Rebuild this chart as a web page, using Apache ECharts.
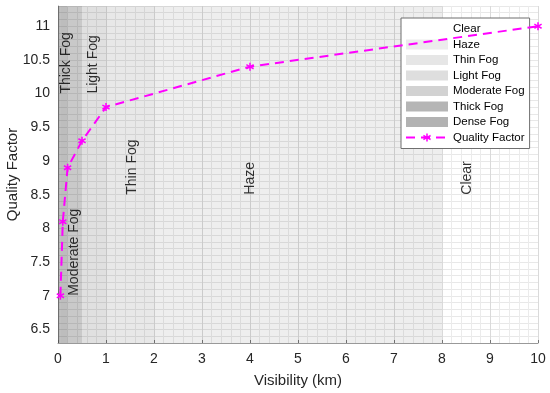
<!DOCTYPE html>
<html><head><meta charset="utf-8">
<script src="https://cdn.jsdelivr.net/npm/echarts@6/dist/echarts.min.js"></script>
<style>html,body{margin:0;padding:0;background:#fff}#c{width:550px;height:393px}</style>
</head><body><div id="c"></div>
<script>
// Quality factor vs visibility
const visibility = [0.05, 0.1, 0.2, 0.5, 1, 4, 10];
const qualityFactor = [7.0, 8.1, 8.9, 9.3, 9.8, 10.4, 11.0];

// Fog class bands (km)
const bandNames = ['Clear', 'Haze', 'Thin Fog', 'Light Fog', 'Moderate Fog', 'Thick Fog', 'Dense Fog'];
const bandStart = [8, 2, 1, 0.5, 0.2, 0.05, 0];
const bandEnd   = [10, 8, 2, 1, 0.5, 0.2, 0.05];
const bandLegendColor = ['#ffffff', '#ececec', '#e6e6e6', '#dedede', '#d2d2d2', '#b5b5b5', '#b2b2b2'];
const bandFill = ['rgba(0,0,0,0)', 'rgba(0,0,0,0.065)', 'rgba(0,0,0,0.09)', 'rgba(0,0,0,0.12)', 'rgba(0,0,0,0.21)', 'rgba(0,0,0,0.26)', 'rgba(0,0,0,0.28)'];

// In-plot class labels: [x, y(bottom of rotated text), text]
const labelX = [0.17, 0.73, 0.33, 1.54, 4.0, 8.52];
const labelY = [10.0, 10.0, 7.0, 8.5, 8.5, 8.5];
const labelText = ['Thick Fog', 'Light Fog', 'Moderate Fog', 'Thin Fog', 'Haze', 'Clear'];

const FONT = "'Liberation Sans', Arial, sans-serif";
const MAG = '#ff00ff';
const starPath = 'path://M-1,-5L1,-5L1,-1.6L4.2,-3.4L5.2,-1.7L2,0L5.2,1.7L4.2,3.4L1,1.6L1,5L-1,5L-1,1.6L-4.2,3.4L-5.2,1.7L-2,0L-5.2,-1.7L-4.2,-3.4L-1,-1.6Z';

const series = [];
bandNames.forEach((n, i) => {
  series.push({
    name: n, type: 'line', data: [], symbol: 'none',
    itemStyle: { color: bandLegendColor[i] },
    lineStyle: { width: 0 },
    z: 1,
    markArea: {
      silent: true,
      itemStyle: { color: bandFill[i] },
      data: [[{ xAxis: bandStart[i] }, { xAxis: bandEnd[i] }]]
    }
  });
});
series.push({
  name: 'Quality Factor', type: 'line',
  data: visibility.map((v, i) => [v, qualityFactor[i]]),
  symbol: starPath, symbolSize: 8,
  itemStyle: { color: MAG },
  lineStyle: { color: MAG, width: 2, type: [9, 6] },
  z: 5
});
series.push({
  name: 'labels', type: 'scatter', symbolSize: 0, silent: true, z: 4,
  data: labelX.map((x, i) => ({ value: [x, labelY[i]], name: labelText[i] })),
  label: {
    show: true, position: [0, 0], rotate: 90, align: 'left', verticalAlign: 'middle',
    formatter: p => p.name, color: '#000', fontSize: 14, fontFamily: FONT
  }
});

const chart = echarts.init(document.getElementById('c'), null, { renderer: 'canvas' });
chart.setOption({
  animation: false,
  backgroundColor: '#fff',
  grid: { left: 58, right: 12, top: 6, bottom: 50, containLabel: false, outerBoundsMode: 'none' },
  xAxis: {
    type: 'value', min: 0, max: 10, interval: 1,
    name: 'Visibility (km)', nameLocation: 'middle', nameGap: 30, nameMoveOverlap: false,
    nameTextStyle: { fontSize: 15, color: '#262626', fontFamily: FONT },
    axisLine: { show: true, lineStyle: { color: '#999', width: 1 } },
    axisTick: { show: true, inside: true, length: 3, lineStyle: { color: '#777' } },
    axisLabel: { fontSize: 14, color: '#262626', fontFamily: FONT, margin: 9 },
    splitLine: { show: true, lineStyle: { color: '#dadada', width: 1 } },
    minorTick: { show: false, splitNumber: 5 },
    minorSplitLine: { show: true, lineStyle: { color: '#ebebeb', width: 1 } }
  },
  yAxis: {
    type: 'value', min: 6.3, max: 11.3, interval: 0.1,
    name: 'Quality Factor', nameLocation: 'middle', nameGap: 38, nameMoveOverlap: false,
    nameTextStyle: { fontSize: 15, color: '#262626', fontFamily: FONT },
    axisLine: { show: true, lineStyle: { color: '#999', width: 1 } },
    axisTick: { show: false },
    axisLabel: {
      fontSize: 14, color: '#262626', fontFamily: FONT, margin: 8,
      formatter: v => { const d = v * 2; return Math.abs(d - Math.round(d)) < 1e-6 ? String(Math.round(d) / 2) : ''; }
    },
    splitLine: {
      show: true,
      lineStyle: { color: '#e8e8e8', width: 1 }
    }
  },
  legend: {
    orient: 'vertical', left: 401, top: 18,
    data: bandNames.map(n => ({ name: n, icon: 'rect' })).concat([{ name: 'Quality Factor' }]),
    itemWidth: 42, itemHeight: 10, itemGap: 1.5,
    padding: [4, 5, 4, 4],
    backgroundColor: '#fff', borderColor: '#6f6f6f', borderWidth: 1, borderRadius: 0,
    textStyle: { fontSize: 11.5, color: '#000', fontFamily: FONT, lineHeight: 14 },
    selectedMode: false
  },
  series: series
});
</script></body></html>
